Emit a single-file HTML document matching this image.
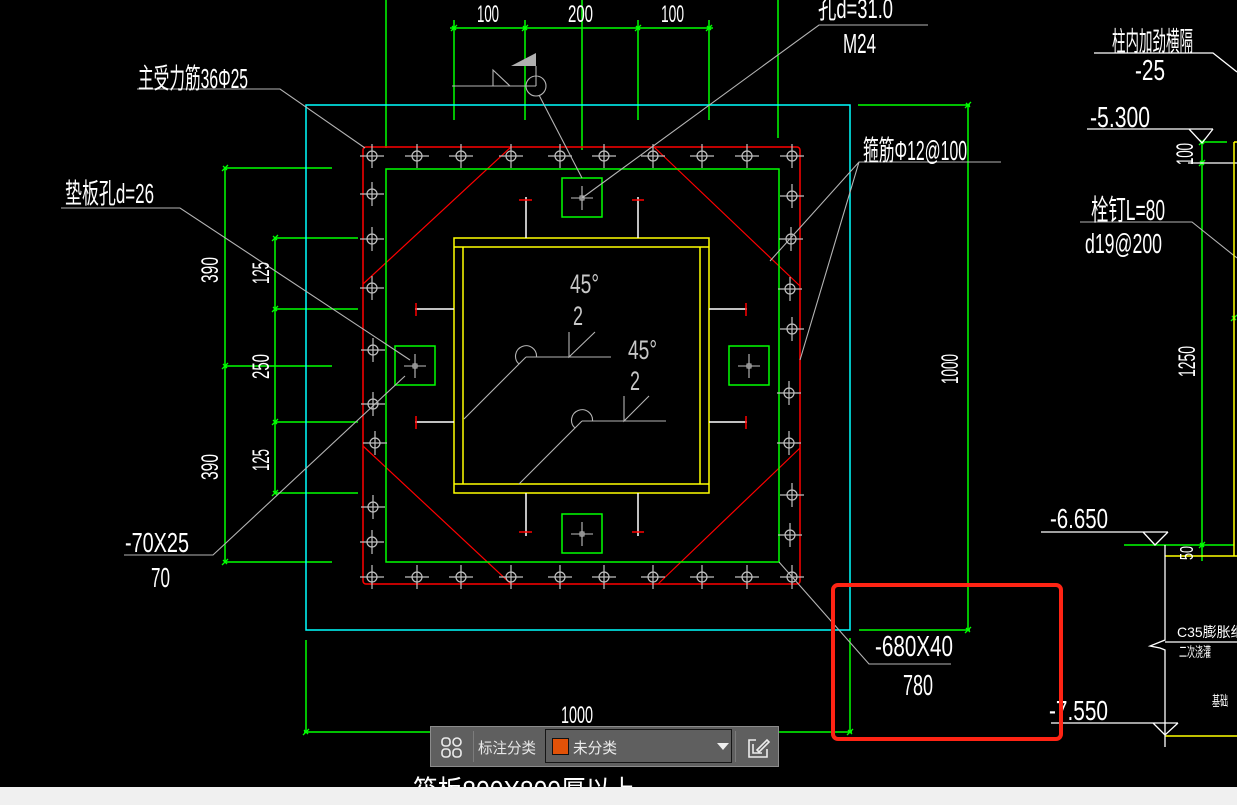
<!DOCTYPE html>
<html><head><meta charset="utf-8">
<style>
html,body{margin:0;padding:0;background:#000;width:1237px;height:805px;overflow:hidden}
svg{display:block}
.t{font-family:"Liberation Sans","Noto Sans CJK SC",sans-serif;fill:#fff}
.g{stroke:#00ff00;stroke-width:1.5;fill:none}
.c{stroke:#00ffff;stroke-width:1.5;fill:none}
.r{stroke:#ff0000;stroke-width:1.5;fill:none}
.y{stroke:#ffff00;stroke-width:1.5;fill:none}
.w{stroke:#ffffff;stroke-width:1.3;fill:none}
.l{stroke:#b4b4b4;stroke-width:1.1;fill:none}
</style></head><body>
<svg width="1237" height="805" viewBox="0 0 1237 805" xmlns="http://www.w3.org/2000/svg">
<rect width="1237" height="805" fill="#000"/>
<defs>
<g id="b" stroke="#c0c0c0" stroke-width="1.2" fill="none"><circle r="5"/><path d="M-12 0H12M0 -12V12"/></g>
<g id="gs"><rect x="-20" y="-20" width="40" height="39" stroke="#00ff00" stroke-width="1.5" fill="none"/><path d="M-11 0H11M0 -12V12" stroke="#c0c0c0" stroke-width="1.1"/><rect x="-2" y="-2" width="4" height="4" stroke="#c0c0c0" fill="none"/></g>
<path id="tk" d="M-3 3L3 -3M-2 -2L2 2" stroke="#00ff00" stroke-width="1.3"/>
</defs>

<!-- green construction / dimension lines -->
<path class="g" d="M386 0V148M582 0V150M778 0V138"/>
<path class="g" d="M450 28H713M454 20V120M525 20V120M638 20V120M709 20V120"/>
<path class="g" d="M225 168V562M225 168H332M225 366H332M225 562H332"/>
<path class="g" d="M275 238V493M275 238H358M275 309H358M275 422H358M275 493H358"/>
<path class="g" d="M968 105V630M858 105H970M859 630H970"/>
<path class="g" d="M306 640V733M850 638V733M304 732H852"/>
<path class="g" d="M1202 142V561M1202 142H1227M1124 545H1234"/>
<g>
<use href="#tk" x="454" y="28"/><use href="#tk" x="525" y="28"/><use href="#tk" x="638" y="28"/><use href="#tk" x="709" y="28"/>
<use href="#tk" x="225" y="168"/><use href="#tk" x="225" y="366"/><use href="#tk" x="225" y="562"/>
<use href="#tk" x="275" y="238"/><use href="#tk" x="275" y="309"/><use href="#tk" x="275" y="422"/><use href="#tk" x="275" y="493"/>
<use href="#tk" x="968" y="105"/><use href="#tk" x="968" y="630"/><use href="#tk" x="306" y="732"/><use href="#tk" x="850" y="732"/>
<use href="#tk" x="1202" y="142"/><use href="#tk" x="1202" y="163"/><use href="#tk" x="1202" y="545"/><use href="#tk" x="1234" y="318"/>
</g>

<!-- cyan outer square -->
<rect class="c" x="306" y="105" width="544" height="525"/>

<!-- red plate -->
<rect class="r" x="363" y="147" width="437" height="437" rx="3"/>
<path stroke="#ff0000" stroke-width="1.2" fill="none" d="M511 147L363 284M654 147L800 286M363 446L511 584M658 584L800 448"/>

<!-- green inner square -->
<rect class="g" x="386" y="169" width="393" height="393"/>

<!-- yellow column -->
<rect class="y" x="454" y="238" width="255" height="255"/>
<path class="y" d="M454 247H709M454 484H709M463 247V484M700 247V484"/>

<!-- white/red marks around column -->
<path stroke="#fff" stroke-width="1.5" d="M526 197V238M638 197V238M526 493V536M638 493V536M415 309H454M415 422H454M709 309H747M709 422H747"/>
<path stroke="#ff0000" stroke-width="1.5" d="M519 200H532M632 200H644M519 532H532M632 532H644M416 303V316M416 416V429M746 303V316M746 416V429"/>

<!-- green anchor squares -->
<use href="#gs" x="582" y="198"/><use href="#gs" x="582" y="534"/><use href="#gs" x="415" y="366"/><use href="#gs" x="749" y="366"/>

<!-- bolts -->
<g>
<use href="#b" x="372" y="156"/><use href="#b" x="417" y="156"/><use href="#b" x="461" y="156"/><use href="#b" x="511" y="156"/><use href="#b" x="560" y="156"/><use href="#b" x="604" y="156"/><use href="#b" x="653" y="156"/><use href="#b" x="702" y="156"/><use href="#b" x="747" y="156"/><use href="#b" x="792" y="156"/>
<use href="#b" x="372" y="577"/><use href="#b" x="417" y="577"/><use href="#b" x="461" y="577"/><use href="#b" x="511" y="577"/><use href="#b" x="560" y="577"/><use href="#b" x="604" y="577"/><use href="#b" x="653" y="577"/><use href="#b" x="702" y="577"/><use href="#b" x="747" y="577"/><use href="#b" x="792" y="577"/>
<use href="#b" x="372" y="194"/><use href="#b" x="372" y="239"/><use href="#b" x="372" y="288"/><use href="#b" x="373" y="350"/><use href="#b" x="373" y="404"/><use href="#b" x="375" y="443"/><use href="#b" x="373" y="507"/><use href="#b" x="372" y="542"/>
<use href="#b" x="792" y="196"/><use href="#b" x="791" y="239"/><use href="#b" x="790" y="289"/><use href="#b" x="792" y="329"/><use href="#b" x="789" y="393"/><use href="#b" x="789" y="443"/><use href="#b" x="792" y="495"/><use href="#b" x="790" y="535"/>
</g>

<!-- weld/flag symbol -->
<path class="l" d="M452 86H536M493 86V70L510 86M536 66V86"/>
<polygon points="511,66 536,53 536,66" fill="#b0b0b0"/>
<circle class="l" cx="536" cy="86" r="10"/>
<path class="l" d="M539 95L582 178"/>

<!-- angle symbols -->
<path class="l" d="M526 357H611M569 332V357L595 332M519 364A10.5 10.5 0 1 1 536.5 357M526 357L464 419"/>
<path class="l" d="M582 421H666M624 396V421L649 396M575 428A10.5 10.5 0 1 1 592.5 421M582 421L519 484"/>

<!-- leaders -->
<path class="l" d="M137 89H280L365 148"/>
<path class="l" d="M61 208H180L410 360"/>
<path class="l" d="M124 555H213L405 376"/>
<path class="l" d="M928 25H819L582 198"/>
<path class="l" d="M1001 162H859L770 261M859 162L800 360"/>
<path class="l" d="M951 664H869L779 562"/>
<path class="l" d="M1080 222H1192L1237 258"/>

<!-- right elevation -->
<path class="w" d="M1094 53H1213L1237 72"/>
<path class="w" d="M1087 129H1213M1189 129L1202 143L1213 129"/>
<path class="w" d="M1188 163H1237"/>
<path class="y" d="M1234 142V556M1234 142H1237M1165 556H1237M1165 736H1237"/>
<path class="w" d="M1041 532H1168M1143 532L1155 545L1168 532"/>
<path class="w" d="M1051 723H1178M1153 723L1165 735L1178 723"/>
<path class="w" d="M1165 545V640L1150 646L1160 648L1165 650V747M1165 642H1237"/>

<!-- texts -->
<g class="t">
<text x="477" y="22" font-size="24" textLength="22" lengthAdjust="spacingAndGlyphs">100</text>
<text x="568" y="22" font-size="24" textLength="25" lengthAdjust="spacingAndGlyphs">200</text>
<text x="661" y="22" font-size="24" textLength="23" lengthAdjust="spacingAndGlyphs">100</text>
<text x="818" y="18" font-size="28" textLength="75" lengthAdjust="spacingAndGlyphs">孔d=31.0</text>
<text x="843" y="53" font-size="28" textLength="33" lengthAdjust="spacingAndGlyphs">M24</text>
<text x="138" y="88" font-size="28" textLength="110" lengthAdjust="spacingAndGlyphs">主受力筋36Φ25</text>
<text x="65" y="203" font-size="28" textLength="89" lengthAdjust="spacingAndGlyphs">垫板孔d=26</text>
<text x="863" y="160" font-size="28" textLength="104" lengthAdjust="spacingAndGlyphs">箍筋Φ12@100</text>
<text x="1112" y="51" font-size="27" textLength="81" lengthAdjust="spacingAndGlyphs">柱内加劲横隔</text>
<text x="1135" y="80" font-size="29" textLength="30" lengthAdjust="spacingAndGlyphs">-25</text>
<text x="1090" y="127" font-size="29" textLength="60" lengthAdjust="spacingAndGlyphs">-5.300</text>
<text x="1091" y="220" font-size="29" textLength="74" lengthAdjust="spacingAndGlyphs">栓钉L=80</text>
<text x="1085" y="253" font-size="28" textLength="77" lengthAdjust="spacingAndGlyphs">d19@200</text>
<text x="125" y="552" font-size="28" textLength="64" lengthAdjust="spacingAndGlyphs">-70X25</text>
<text x="151" y="587" font-size="28" textLength="19" lengthAdjust="spacingAndGlyphs">70</text>
<text x="875" y="656" font-size="29" textLength="78" lengthAdjust="spacingAndGlyphs">-680X40</text>
<text x="903" y="695" font-size="29" textLength="30" lengthAdjust="spacingAndGlyphs">780</text>
<text x="1050" y="528" font-size="28" textLength="58" lengthAdjust="spacingAndGlyphs">-6.650</text>
<text x="1049" y="720" font-size="28" textLength="59" lengthAdjust="spacingAndGlyphs">-7.550</text>
<text x="561" y="723" font-size="24" textLength="32" lengthAdjust="spacingAndGlyphs">1000</text>
<text x="1177" y="637" font-size="14">C35膨胀细石砼</text>
<text x="1179" y="657" font-size="14" textLength="32" lengthAdjust="spacingAndGlyphs">二次浇灌</text>
<text x="1212" y="706" font-size="14" textLength="16" lengthAdjust="spacingAndGlyphs">基础</text>
<text transform="translate(210 270) rotate(-90)" x="-13" y="8" font-size="24" textLength="26" lengthAdjust="spacingAndGlyphs">390</text>
<text transform="translate(210 467) rotate(-90)" x="-13" y="8" font-size="24" textLength="26" lengthAdjust="spacingAndGlyphs">390</text>
<text transform="translate(261 273) rotate(-90)" x="-11" y="8" font-size="24" textLength="22" lengthAdjust="spacingAndGlyphs">125</text>
<text transform="translate(261 367) rotate(-90)" x="-12" y="8" font-size="24" textLength="25" lengthAdjust="spacingAndGlyphs">250</text>
<text transform="translate(261 460) rotate(-90)" x="-11" y="8" font-size="24" textLength="22" lengthAdjust="spacingAndGlyphs">125</text>
<text transform="translate(950 369) rotate(-90)" x="-15" y="8" font-size="24" textLength="30" lengthAdjust="spacingAndGlyphs">1000</text>
<text transform="translate(1187 362) rotate(-90)" x="-15" y="8" font-size="24" textLength="31" lengthAdjust="spacingAndGlyphs">1250</text>
<text transform="translate(1185 154) rotate(-90)" x="-11" y="8" font-size="24" textLength="22" lengthAdjust="spacingAndGlyphs">100</text>
<text transform="translate(1187 553) rotate(-90)" x="-7" y="6" font-size="18" textLength="14" lengthAdjust="spacingAndGlyphs">50</text>
<text x="413" y="800" font-size="28" textLength="222" lengthAdjust="spacingAndGlyphs">筏板800X800厚以上</text>
</g>
<g fill="#c8c8c8" font-family="Liberation Sans, sans-serif">
<text x="570" y="293" font-size="27" textLength="29" lengthAdjust="spacingAndGlyphs">45°</text>
<text x="573" y="325" font-size="27" textLength="10" lengthAdjust="spacingAndGlyphs">2</text>
<text x="628" y="359" font-size="27" textLength="29" lengthAdjust="spacingAndGlyphs">45°</text>
<text x="630" y="390" font-size="27" textLength="10" lengthAdjust="spacingAndGlyphs">2</text>
</g>

<!-- highlight box -->
<rect x="833" y="585" width="228" height="154" rx="5" fill="none" stroke="#ff2414" stroke-width="4"/>

<!-- toolbar -->
<rect x="430.5" y="726.5" width="348" height="40" fill="#5f5f5f" stroke="#8c8c8c" stroke-width="1"/>
<g fill="none" stroke="#ececec" stroke-width="1.6">
<rect x="442" y="738" width="8" height="8" rx="3"/>
<rect x="453" y="738" width="8" height="8" rx="4"/>
<rect x="442" y="749" width="8" height="8" rx="3"/>
<rect x="453" y="749" width="8" height="8" rx="3"/>
</g>
<path d="M473.5 731V762M735.5 731V762" stroke="#7c7c7c" stroke-width="1"/>
<text x="478" y="753" font-size="15" fill="#e8e8e8" font-family="Liberation Sans, Noto Sans CJK SC, sans-serif" textLength="58" lengthAdjust="spacingAndGlyphs">标注分类</text>
<rect x="545.5" y="729.5" width="186" height="33" fill="#5f5f5f" stroke="#161616" stroke-width="1"/>
<rect x="552.5" y="738.5" width="16" height="16" fill="#e25208" stroke="#111" stroke-width="1"/>
<text x="573" y="753" font-size="15" fill="#ececec" font-family="Liberation Sans, Noto Sans CJK SC, sans-serif" textLength="44" lengthAdjust="spacingAndGlyphs">未分类</text>
<polygon points="717,743 729,743 723,750" fill="#eeeeee"/>
<g fill="none" stroke="#ececec" stroke-width="1.6">
<path d="M756 740H749V757H767V749"/>
<path d="M753 744V753H762"/>
<path d="M757 750L767 740L769 742L759 752Z"/>
</g>

<!-- bottom band -->
<rect x="0" y="787" width="1237" height="18" fill="#f0f0f0"/>
</svg>
</body></html>
